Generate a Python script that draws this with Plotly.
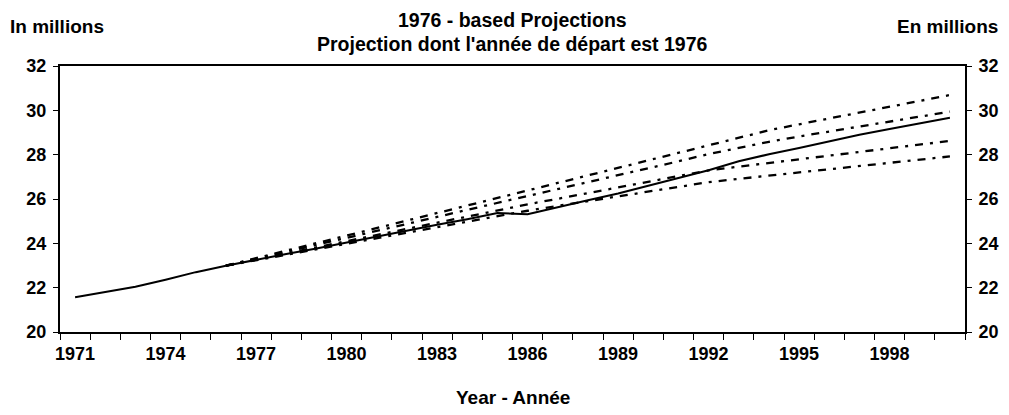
import plotly.graph_objects as go

# ---- data -------------------------------------------------------------
years_actual = list(range(1971, 2001))
actual = [21.57, 21.80, 22.04, 22.36, 22.70, 22.99, 23.27, 23.52, 23.77, 24.04,
          24.32, 24.58, 24.84, 25.09, 25.37, 25.31, 25.64, 25.94, 26.25, 26.60,
          26.95, 27.30, 27.70, 28.02, 28.30, 28.60, 28.90, 29.16, 29.40, 29.67]

years_proj = list(range(1976, 2001))
proj_1 = [22.99, 23.33, 23.67, 24.01, 24.36, 24.70, 25.04, 25.38, 25.72, 26.05,
          26.38, 26.72, 27.06, 27.40, 27.74, 28.08, 28.42, 28.77, 29.10, 29.37,
          29.64, 29.90, 30.16, 30.42, 30.69]
proj_2 = [22.99, 23.30, 23.62, 23.93, 24.25, 24.56, 24.88, 25.19, 25.51, 25.82,
          26.12, 26.43, 26.74, 27.05, 27.37, 27.70, 28.03, 28.32, 28.58, 28.82,
          29.05, 29.28, 29.50, 29.72, 29.94]
proj_3 = [22.99, 23.27, 23.55, 23.82, 24.10, 24.38, 24.65, 24.93, 25.21, 25.48,
          25.76, 26.01, 26.27, 26.52, 26.78, 27.03, 27.29, 27.46, 27.63, 27.79,
          27.96, 28.12, 28.29, 28.45, 28.62]
proj_4 = [22.99, 23.24, 23.49, 23.73, 23.98, 24.23, 24.48, 24.73, 24.97, 25.22,
          25.47, 25.69, 25.90, 26.12, 26.33, 26.55, 26.76, 26.91, 27.05, 27.20,
          27.34, 27.49, 27.63, 27.78, 27.92]

label_years = [1971, 1974, 1977, 1980, 1983, 1986, 1989, 1992, 1995, 1998]
y_ticks = [20, 22, 24, 26, 28, 30, 32]

title_1 = "1976 - based Projections"
title_2 = "Projection dont l'année de départ est 1976"
left_unit = "In millions"
right_unit = "En millions"
x_title = "Year - Année"

# ---- figure -----------------------------------------------------------
FONT = "Liberation Sans, Arial, sans-serif"
fig = go.Figure()

dash_pat = "8px,7px,3px,7px"
for series in (proj_1, proj_2, proj_3, proj_4):
    fig.add_trace(go.Scatter(x=years_proj, y=series, mode="lines",
                             line=dict(color="black", width=2.3, dash=dash_pat),
                             showlegend=False, hoverinfo="skip"))

fig.add_trace(go.Scatter(x=years_actual, y=actual, mode="lines",
                         line=dict(color="black", width=2),
                         showlegend=False))

# dummy trace for the right-hand axis
fig.add_trace(go.Scatter(x=[years_actual[0]], y=[actual[0]], yaxis="y2",
                         mode="markers", marker=dict(opacity=0),
                         showlegend=False, hoverinfo="skip"))

tick_font = dict(family=FONT, size=18, color="black", weight="bold")

# the page body adds an 8px offset, so the figure is 8px smaller
fig.update_layout(
    width=1001, height=407,
    margin=dict(l=52, r=44, t=58, b=83, autoexpand=False),
    paper_bgcolor="white", plot_bgcolor="white",
    showlegend=False,
    xaxis=dict(range=[1970.5, 2000.5], tickmode="array",
               tickvals=label_years, ticktext=[str(y) for y in label_years],
               ticks="", showgrid=False, zeroline=False,
               showline=True, linecolor="black", linewidth=2, mirror=True,
               tickfont=tick_font, ticklabelstandoff=4,
               minor=dict(tickmode="array",
                          tickvals=[y - 0.5 for y in range(1971, 2002)],
                          ticks="outside", ticklen=6, tickwidth=1,
                          tickcolor="black", showgrid=False)),
    yaxis=dict(range=[20, 32], tickmode="array", tickvals=y_ticks,
               ticks="outside", ticklen=5, tickwidth=1, tickcolor="black",
               showgrid=False, zeroline=False,
               showline=True, linecolor="black", linewidth=2,
               tickfont=tick_font, ticklabelstandoff=3),
    yaxis2=dict(range=[20, 32], tickmode="array", tickvals=y_ticks,
                overlaying="y", side="right", anchor="x",
                ticks="outside", ticklen=5, tickwidth=1, tickcolor="black",
                showgrid=False, zeroline=False,
                showline=True, linecolor="black", linewidth=2,
                tickfont=tick_font, ticklabelstandoff=3),
)

ann_font = dict(family=FONT, color="black", weight="bold")
fig.add_annotation(text=title_1, xref="paper", yref="paper", x=0.5, y=1.173,
                   xanchor="center", yanchor="middle", showarrow=False,
                   font=dict(ann_font, size=19.5))
fig.add_annotation(text=title_2, xref="paper", yref="paper", x=0.5, y=1.083,
                   xanchor="center", yanchor="middle", showarrow=False,
                   font=dict(ann_font, size=19.5))
fig.add_annotation(text=left_unit, xref="paper", yref="paper", x=-0.0575, y=1.147,
                   xanchor="left", yanchor="middle", showarrow=False,
                   font=dict(ann_font, size=19))
fig.add_annotation(text=right_unit, xref="paper", yref="paper", x=1.0387, y=1.147,
                   xanchor="right", yanchor="middle", showarrow=False,
                   font=dict(ann_font, size=19))
fig.add_annotation(text=x_title, xref="paper", yref="paper", x=0.5, y=-0.248,
                   xanchor="center", yanchor="middle", showarrow=False,
                   font=dict(ann_font, size=19))

fig.write_html("out.html")
